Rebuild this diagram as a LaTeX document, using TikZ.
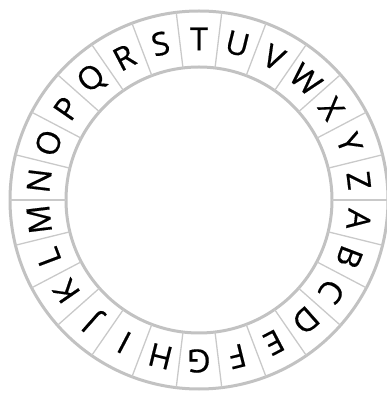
\documentclass[tikz,border=0pt]{standalone}
\usepackage{fontspec}
\setmainfont{Open Sans}
\newfontfamily\wheelfont[FakeBold=0.5]{Open Sans}
\usetikzlibrary{calc}

\begin{document}
\begin{tikzpicture}[
    x=1pt, y=1pt,
    ring/.style={draw=black!24, line width=3pt},
    divider/.style={draw=black!21, line width=1.3pt},
    letter/.style={font=\wheelfont\fontsize{32}{32}\selectfont, inner sep=0pt, text=black}
]
\useasboundingbox (0,0) rectangle (386,396);

\coordinate (centre) at (199,196);

% rings
\draw [ring] (centre) circle (189);
\draw [ring] (centre) circle (133);

% spokes between the letters
\foreach \k in {0,...,25} {
    \draw [divider] ($(centre)+(\k*360/26:133)$) -- ($(centre)+(\k*360/26:189)$);
}

% letters, clockwise from A just below the right spoke
\foreach \ch [count=\i from 0] in {A,...,Z} {
    \node (letter\ch) [letter, rotate=-96.923-\i*13.846] at ($(centre)+(-6.923-\i*13.846:161)$) {\ch};
}

\end{tikzpicture}
\end{document}
